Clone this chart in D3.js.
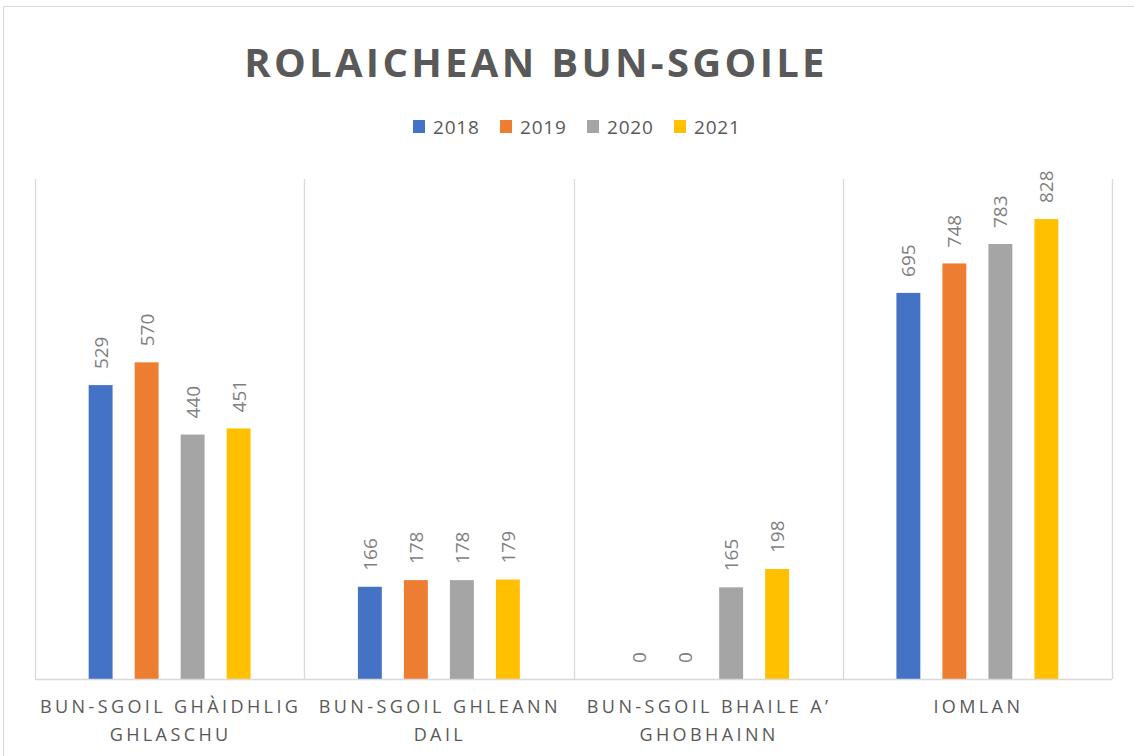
<!DOCTYPE html>
<html>
<head>
<meta charset="utf-8">
<script src="https://cdn.jsdelivr.net/npm/d3@7"></script>
<style>
  body { margin: 0; background: #fff; }
  svg { display: block; }
</style>
</head>
<body>
<div id="chart"></div>
<script>
const categories = [
  ["BUN-SGOIL GHÀIDHLIG", "GHLASCHU"],
  ["BUN-SGOIL GHLEANN", "DAIL"],
  ["BUN-SGOIL BHAILE A’", "GHOBHAINN"],
  ["IOMLAN"]
];
const years = ["2018", "2019", "2020", "2021"];
const values2018 = [529, 166, 0, 695];
const values2019 = [570, 178, 0, 748];
const values2020 = [440, 178, 165, 783];
const values2021 = [451, 179, 198, 828];
const colors = ["#4472C4", "#ED7D31", "#A5A5A5", "#FFC000"];

const series = [values2018, values2019, values2020, values2021];

let width = 1134,
  height = 756,
  plotLeft = 35,
  plotRight = 1112,
  plotTop = 179,
  plotBottom = 679;

let svg = d3
  .select("#chart")
  .append("svg")
  .attr("width", width)
  .attr("height", height);

// chart border
svg
  .append("rect")
  .attr("x", 3.5)
  .attr("y", 6.5)
  .attr("width", 1140)
  .attr("height", 780)
  .attr("fill", "none")
  .attr("stroke", "#d9d9d9");

// title
svg
  .append("text")
  .attr("x", 536)
  .attr("y", 77)
  .attr("text-anchor", "middle")
  .attr("font-family", "Open Sans")
  .attr("font-weight", "bold")
  .attr("font-size", 40)
  .attr("letter-spacing", 3.3)
  .attr("fill", "#595959")
  .text("ROLAICHEAN BUN-SGOILE");

// legend
let legend = svg
  .selectAll(".legend")
  .data(years)
  .enter()
  .append("g")
  .attr("class", "legend")
  .attr("transform", (d, i) => "translate(" + (413 + i * 87) + ",120)");
legend
  .append("rect")
  .attr("width", 12)
  .attr("height", 13)
  .attr("fill", (d, i) => colors[i]);
legend
  .append("text")
  .attr("x", 20)
  .attr("y", 13.5)
  .attr("font-family", "Open Sans")
  .attr("font-size", 19)
  .attr("letter-spacing", 0.8)
  .attr("fill", "#595959")
  .text((d) => d);

let xScale = d3
  .scaleBand()
  .domain(d3.range(categories.length))
  .range([plotLeft, plotRight]);

let bw = xScale.bandwidth();
let groupWidth = 184;

let xSeries = d3
  .scaleBand()
  .domain(years)
  .range([(bw - groupWidth) / 2, (bw + groupWidth) / 2])
  .paddingInner(0.48)
  .paddingOuter(0.24);

let yScale = d3.scaleLinear().domain([0, 900]).range([plotBottom, plotTop]);

// vertical gridlines between categories
let edges = d3.range(categories.length + 1).map((i) => plotLeft + i * bw);
svg
  .selectAll(".grid")
  .data(edges)
  .enter()
  .append("line")
  .attr("x1", (d) => Math.round(d) + 0.5)
  .attr("x2", (d) => Math.round(d) + 0.5)
  .attr("y1", plotTop)
  .attr("y2", plotBottom)
  .attr("stroke", "#d9d9d9")
  .attr("stroke-width", 1.3);

// bars
series.forEach((vals, s) => {
  let g = svg.append("g");
  g.selectAll("rect")
    .data(vals)
    .enter()
    .append("rect")
    .attr("x", (d, i) => xScale(i) + xSeries(years[s]))
    .attr("y", (d) => yScale(d))
    .attr("width", xSeries.bandwidth())
    .attr("height", (d) => plotBottom - yScale(d))
    .attr("fill", colors[s]);

  g.selectAll("text")
    .data(vals)
    .enter()
    .append("text")
    .attr("transform", (d, i) => {
      let cx = xScale(i) + xSeries(years[s]) + xSeries.bandwidth() / 2 + 7;
      let cy = yScale(d) - 16;
      return "translate(" + cx + "," + cy + ") rotate(-90)";
    })
    .attr("font-family", "Open Sans")
    .attr("font-size", 19)
    .attr("fill", "#7f7f7f")
    .text((d) => d);
});

// baseline
svg
  .append("line")
  .attr("x1", plotLeft)
  .attr("x2", plotRight)
  .attr("y1", plotBottom + 0.5)
  .attr("y2", plotBottom + 0.5)
  .attr("stroke", "#d9d9d9")
  .attr("stroke-width", 1.3);

// category labels
let catLabels = svg
  .selectAll(".cat")
  .data(categories)
  .enter()
  .append("text")
  .attr("class", "cat")
  .attr("text-anchor", "middle")
  .attr("font-family", "Open Sans")
  .attr("font-size", 18)
  .attr("letter-spacing", 3.4)
  .attr("fill", "#595959");
catLabels
  .selectAll("tspan")
  .data((d, i) => d.map((line) => ({ line, i })))
  .enter()
  .append("tspan")
  .attr("x", (d) => xScale(d.i) + bw / 2 + 1)
  .attr("y", (d, j) => 713 + j * 28)
  .text((d) => d.line);
</script>
</body>
</html>
